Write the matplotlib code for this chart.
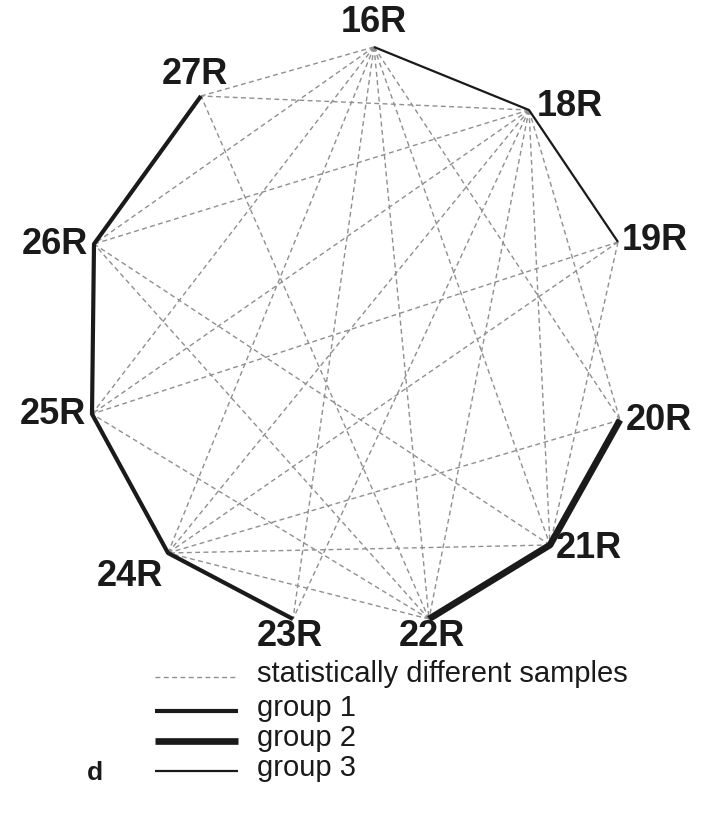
import matplotlib

matplotlib.use("Agg")
import matplotlib.pyplot as plt

plt.rcParams["font.family"] = ["Liberation Sans", "DejaVu Sans"]

# samples placed round the ring (pixel layout of the original figure)
samples = ["16R", "18R", "19R", "20R", "21R", "22R", "23R", "24R", "25R", "26R", "27R"]
sample_x = [374, 529, 618, 620, 550, 429, 293, 168, 92, 94, 201]
sample_y = [47, 110, 242, 420, 545, 619, 619, 553, 414, 244, 96]

# pairs that are statistically different
diff_pairs = [
    ("16R", "27R"), ("16R", "26R"), ("16R", "25R"), ("16R", "24R"),
    ("16R", "23R"), ("16R", "22R"), ("16R", "21R"), ("16R", "20R"),
    ("18R", "27R"), ("18R", "26R"), ("18R", "25R"), ("18R", "24R"),
    ("18R", "23R"), ("18R", "22R"), ("18R", "21R"), ("18R", "20R"),
    ("19R", "25R"), ("19R", "24R"), ("19R", "21R"),
    ("20R", "24R"),
    ("21R", "24R"), ("21R", "26R"),
    ("22R", "24R"), ("22R", "25R"), ("22R", "26R"), ("22R", "27R"),
]

group1 = ["27R", "26R", "25R", "24R", "23R"]
group2 = ["20R", "21R", "22R"]
group3 = ["16R", "18R", "19R"]

legend_labels = ["statistically different samples", "group 1", "group 2", "group 3"]

pos = {s: (x, y) for s, x, y in zip(samples, sample_x, sample_y)}

fig = plt.figure(figsize=(7.2, 8.26), dpi=100)
ax = fig.add_axes([0, 0, 1, 1])
ax.set_xlim(0, 720)
ax.set_ylim(826, 0)
ax.set_axis_off()

dash_style = dict(color="#8f8f8f", lw=1.0, linestyle=(0, (3.5, 2.5)))
group_styles = [
    dict(color="#1a1a1a", lw=3.0, solid_capstyle="butt"),
    dict(color="#1a1a1a", lw=4.8, solid_capstyle="butt"),
    dict(color="#1a1a1a", lw=1.6, solid_capstyle="butt"),
]

for a, b in diff_pairs:
    ax.plot([pos[a][0], pos[b][0]], [pos[a][1], pos[b][1]], **dash_style)

for members, style in zip([group1, group2, group3], group_styles):
    ax.plot([pos[m][0] for m in members], [pos[m][1] for m in members], **style)

# label placement around each node: (dx, dy, ha)
label_offsets = {
    "16R": (0, -25, "center"), "18R": (8, -3, "left"), "19R": (4, -2, "left"),
    "20R": (6, 0, "left"), "21R": (6, 4, "left"), "22R": (3, 18, "center"),
    "23R": (-3, 18, "center"), "24R": (-38, 24, "center"), "25R": (-6, 0, "right"),
    "26R": (-6, 0, "right"), "27R": (-6, -22, "center"),
}
for s in samples:
    dx, dy, ha = label_offsets[s]
    ax.text(pos[s][0] + dx, pos[s][1] + dy, s, ha=ha, va="center",
            fontsize=26, fontweight="bold", color="#1a1a1a")

# legend
legend_y = [677, 711, 741, 771]
ax.plot([155, 238], [legend_y[0]] * 2, **dash_style)
for yy, style in zip(legend_y[1:], group_styles):
    ax.plot([155, 238], [yy, yy], **style)
for yy, lab in zip(legend_y, legend_labels):
    ax.text(257, yy - 3, lab, ha="left", va="center", fontsize=21, color="#1a1a1a")

ax.text(95, 773, "d", ha="center", va="center", fontsize=19, fontweight="bold", color="#1a1a1a")

fig.savefig("out.png", dpi=100)
